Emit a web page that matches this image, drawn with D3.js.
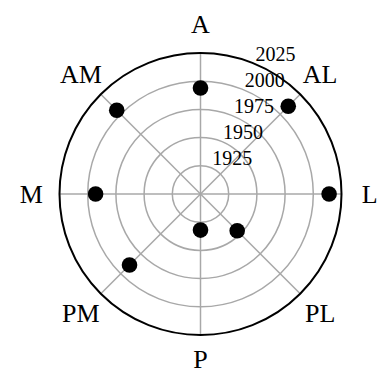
<!DOCTYPE html>
<html>
<head>
<meta charset="utf-8">
<script src="https://cdn.jsdelivr.net/npm/d3@7"></script>
<style>
  html, body { margin: 0; padding: 0; background: #fff; }
  svg { display: block; }
  text { font-family: "Liberation Serif", "Times New Roman", serif; fill: #000; }
</style>
</head>
<body>
<svg id="chart" width="378" height="374"></svg>
<script>
// Data
const directions = ["A", "AL", "L", "PL", "P", "PM", "M", "AM"];
const yearValues = [1994, 2010, 2014, 1946, 1932, 1989, 1993, 2005];
const ringTicks = [1925, 1950, 1975, 2000, 2025];
const radialDomain = [1900, 2025];

const W = 378, H = 374;
const cx = 200.5, cy = 194, R = 141;
const dirFont = 26;

const svg = d3.select("#chart");
const g = svg.append("g").attr("transform", `translate(${cx},${cy})`);

const r = d3.scaleLinear().domain(radialDomain).range([0, R]);
const angle = d3.scalePoint().domain(directions).range([0, 2 * Math.PI * 7 / 8]);

function xy(a, rad) {
  return [rad * Math.sin(a), -rad * Math.cos(a)];
}

// Grid rings
g.selectAll("circle.ring")
  .data(ringTicks.slice(0, -1))
  .join("circle")
  .attr("class", "ring")
  .attr("r", d => r(d))
  .attr("fill", "none")
  .attr("stroke", "#a8a8a8")
  .attr("stroke-width", 1.5);

// Spokes
g.selectAll("line.spoke")
  .data(directions)
  .join("line")
  .attr("class", "spoke")
  .attr("x1", 0).attr("y1", 0)
  .attr("x2", d => xy(angle(d), R)[0])
  .attr("y2", d => xy(angle(d), R)[1])
  .attr("stroke", "#a8a8a8")
  .attr("stroke-width", 1.5);

// Ring labels
const labelAngle = Math.PI / 8;
g.selectAll("text.tick")
  .data(ringTicks)
  .join("text")
  .attr("class", "tick")
  .attr("x", d => xy(labelAngle, r(d))[0] + 21)
  .attr("y", d => xy(labelAngle, r(d))[1] - 10)
  .attr("text-anchor", "middle")
  .attr("dominant-baseline", "central")
  .attr("font-size", 20)
  .text(d => d);

// Outer circle
g.append("circle")
  .attr("r", r(radialDomain[1]))
  .attr("fill", "none")
  .attr("stroke", "#000")
  .attr("stroke-width", 2);

// Direction labels (kept inside the canvas)
const maxY = H - cy - 0.56 * dirFont;
g.selectAll("text.dir")
  .data(directions)
  .join("text")
  .attr("class", "dir")
  .attr("x", d => xy(angle(d), R * 1.2)[0])
  .attr("y", d => Math.min(xy(angle(d), R * 1.2)[1], maxY))
  .attr("text-anchor", "middle")
  .attr("dominant-baseline", "central")
  .attr("font-size", dirFont)
  .text(d => d);

// Points
g.selectAll("circle.pt")
  .data(directions.map((d, i) => ({ dir: d, v: yearValues[i] })))
  .join("circle")
  .attr("class", "pt")
  .attr("cx", d => xy(angle(d.dir), r(d.v))[0])
  .attr("cy", d => xy(angle(d.dir), r(d.v))[1])
  .attr("r", 7.8)
  .attr("fill", "#000");
</script>
</body>
</html>
